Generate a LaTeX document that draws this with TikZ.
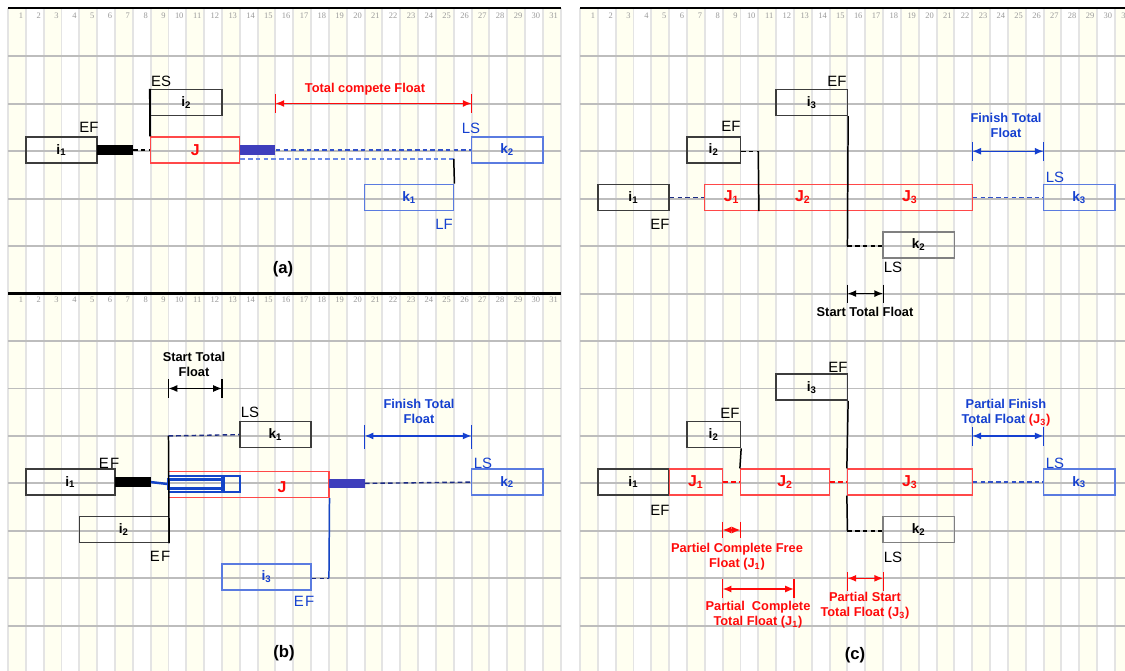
\documentclass[tikz,border=0pt]{standalone}
\usepackage{fontspec}
\setmainfont{Liberation Sans}
\newfontfamily\numfont{Liberation Serif}
\usetikzlibrary{arrows.meta,calc}
\definecolor{cream}{HTML}{FFFFF1}
\definecolor{gcol}{HTML}{E4E4E4}
\definecolor{rowcol}{HTML}{BDBDBD}
\definecolor{bblack}{HTML}{3C3C3C}
\definecolor{bred}{HTML}{FF4848}
\definecolor{bblue}{HTML}{5A7BE0}
\definecolor{bgrey}{HTML}{808080}
\definecolor{tred}{HTML}{FF0A0A}
\definecolor{tblue}{HTML}{1540D0}
\definecolor{barblue}{HTML}{3E3EBC}
\definecolor{nestblue}{HTML}{1445C8}
\definecolor{navy}{HTML}{1C2C84}
\definecolor{dblue}{HTML}{3050C8}
\definecolor{lblue}{HTML}{6A88E6}
\definecolor{numgrey}{HTML}{9A9A9A}
\newcommand\task[7]{\node[#2,minimum width={((#5)-(#4))*0.3566cm}] (#1) at ({#3+((#4)+(#5)-2)*8.915},#6) {#7};}
\newcommand\XL[1]{(8+((#1)-1)*17.83)}
\newcommand\XR[1]{(580+((#1)-1)*17.83)}
\newcommand\lb[2]{\textbf{#1\textsubscript{#2}}}
\newcommand\dimline[5]{\draw[dimar,#1] (#2) -- (#3);
  \draw[tk,#1] ($(#2)+(0,-#4)$) -- ($(#2)+(0,#5)$);
  \draw[tk,#1] ($(#3)+(0,-#4)$) -- ($(#3)+(0,#5)$);}
\begin{document}
\begin{tikzpicture}[x=0.02cm,y=-0.02cm,
 box/.style={draw,line width=0.8pt,minimum height=0.52cm,inner sep=0pt,font=\fontsize{7.8}{9}\selectfont},
 blk/.style={box,draw=bblack},
 redbox/.style={box,draw=bred,line width=0.7pt,text=tred,font=\fontsize{9}{10}\selectfont\bfseries},
 bluebox/.style={box,draw=bblue,text=tblue},
 greybox/.style={box,draw=bgrey},
 barnode/.style={inner sep=0pt,minimum height=0.19cm,draw=none},
 nest/.style={draw=nestblue,line width=1.1pt,inner sep=0pt,minimum height=0.32cm},
 nestin/.style={draw=nestblue,line width=1.2pt,inner sep=0pt,minimum height=0.18cm},
 lbl/.style={inner sep=0pt,font=\fontsize{8.5}{9}\selectfont},
 flt/.style={inner sep=0pt,align=center,font=\fontsize{7.3}{8.5}\selectfont\bfseries},
 dimar/.style={{Latex[length=5pt,width=4pt]}-{Latex[length=5pt,width=4pt]},line width=0.8pt},
 tk/.style={line width=0.7pt},
 captxt/.style={inner sep=0pt,font=\fontsize{9.5}{11}\selectfont\bfseries},
 dsh/.style={dash pattern=on 2.6pt off 1.8pt,line width=0.8pt},
 conn/.style={line width=0.85pt},
 numsty/.style={inner sep=0pt,text=numgrey,font=\numfont\fontsize{4.8}{5}\selectfont}
]
\useasboundingbox (0,0) rectangle (1125,671);
\fill[white] (0,0) rectangle (1125,671);
\begin{scope}
\clip (0,0) rectangle (1125,671);
\foreach \o in {8,580}{
  \foreach \n in {1,3,...,31} \fill[cream] ({\o+(\n-1)*17.83},8) rectangle ({\o+\n*17.83},671);
  \foreach \n in {0,...,31} \draw[gcol,line width=1.1pt] ({\o+\n*17.83},8) -- ({\o+\n*17.83},671);
  \foreach \n in {1,...,31} \node[numsty,anchor=east] at ({\o+\n*17.83-2.5},15.5) {\n};
}
\foreach \n in {1,...,31} \node[numsty,anchor=east] at ({8+\n*17.83-2.5},300) {\n};
\foreach \k in {1,2,3,4,5,7,8,9,10,11,12,13} \draw[rowcol,line width=1.1pt] (8,{8.9+47.45*\k}) -- (560.73,{8.9+47.45*\k});
\foreach \k in {1,...,13} \draw[rowcol,line width=1.1pt] (580,{8.9+47.45*\k}) -- (1125,{8.9+47.45*\k});
\draw[black,line width=1.5pt] (8,8) -- (560.73,8);
\draw[black,line width=1.5pt] (8,293.6) -- (560.73,293.6);
\draw[black,line width=1.5pt] (580,8) -- (1125,8);
\end{scope}

% ---------------- panel (a)
\task{a_i1}{blk}{8}{2}{6}{149.95}{\lb{i}{1}}
\task{a_bar}{barnode,fill=black}{8}{6}{8}{149.95}{}
\task{a_J}{redbox}{8}{9}{14}{149.95}{J}
\task{a_bbar}{barnode,fill=barblue}{8}{14}{16}{149.95}{}
\task{a_k2}{bluebox}{8}{27}{31}{149.95}{\lb{k}{2}}
\task{a_i2}{blk}{8}{9}{13}{102.5}{\lb{i}{2}}
\task{a_k1}{bluebox}{8}{21}{26}{197.4}{\lb{k}{1}}
\node[lbl] (a_EF) at (89,127) {EF};
\node[lbl] (a_ES) at (161,81) {ES};
\node[lbl,text=tblue] (a_LS) at (471,128) {LS};
\node[lbl,text=tblue] (a_LF) at (444,224) {LF};
\draw[dsh,black] (a_bar.east) -- (a_J.west);
\draw[line width=1.1pt] (a_i2.north west) -- (a_J.north west);
\draw[dsh,dblue] (a_bbar.east) -- (a_k2.west);
\coordinate (a_c) at ({\XL{26}},159);
\draw[dsh,lblue] (a_J.east |- a_c) -- (a_c);
\draw[conn] (a_c) -- (a_k1.north east);
\coordinate (a_f1) at ({\XL{16}},103.5);
\coordinate (a_f2) at ({\XL{27}},103.5);
\dimline{tred}{a_f1}{a_f2}{9}{10}
\node[flt,text=tred] (a_ft) at (365,89) {Total compete Float};
\node[captxt] (a_cap) at (283,269) {(a)};

% ---------------- panel (b)
\node[flt] (b_st) at (194,364.5) {Start Total\\Float};
\coordinate (b_s1) at ({\XL{10}},388.5);
\coordinate (b_s2) at ({\XL{13}},388.5);
\dimline{black}{b_s1}{b_s2}{9}{10}
\node[flt,text=tblue] (b_ft) at (419,411) {Finish Total\\Float};
\coordinate (b_f1) at ({\XL{21}},435.95);
\coordinate (b_f2) at ({\XL{27}},435.95);
\dimline{tblue}{b_f1}{b_f2}{11}{13}
\task{b_k1}{blk}{8}{14}{18}{434.65}{\lb{k}{1}}
\node[lbl] (b_LS1) at (250,412) {LS};
\coordinate (b_c1) at ({\XL{10}},435.95);
\task{b_i1}{blk}{8}{2}{7}{482.1}{\lb{i}{1}}
\task{b_bar}{barnode,fill=black}{8}{7}{9}{482.1}{}
\task{b_J}{redbox}{8}{10}{19}{484.5}{}
\node[inner sep=0pt,text=tred,font=\fontsize{9}{10}\selectfont\bfseries] (b_Jl) at (282,487) {J};
\task{b_nest}{nest}{8}{10}{14}{484}{}
\task{b_nin}{nestin}{8}{10}{13}{484}{}
\draw[nestblue,line width=1.8pt] (b_nin.east |- b_nest.north) -- (b_nin.east |- b_nest.south);
\draw[nestblue,line width=1.4pt] (b_bar.east) -- (b_nest.west);
\task{b_bbar}{barnode,fill=barblue}{8}{19}{21}{483.4}{}
\task{b_k2}{bluebox}{8}{27}{31}{482.1}{\lb{k}{2}}
\draw[dsh,navy] (b_bbar.east) -- (b_k2.west);
\draw[dsh,navy] (b_c1) -- (b_k1.west);
\task{b_i2}{blk}{8}{5}{10}{529.55}{\lb{i}{2}}
\draw[conn] (b_c1) -- (b_i2.south east);
\task{b_i3}{bluebox}{8}{13}{18}{577}{\lb{i}{3}}
\coordinate (b_c2) at ({\XL{19}},578.3);
\draw[dsh,navy] (b_i3.east |- b_c2) -- (b_c2);
\draw[conn,nestblue] (b_c2) -- (b_J.south east);
\node[lbl] (b_EF1) at (109,463) {E\kern0.8pt F};
\node[lbl] (b_EF2) at (160,556) {E\kern0.8pt F};
\node[lbl,text=tblue] (b_EF3) at (304,601) {E\kern0.8pt F};
\node[lbl,text=tblue] (b_LS2) at (483,463) {LS};
\node[captxt] (b_cap) at (284,653) {(b)};

% ---------------- panel (c) top
\task{c_i3}{blk}{580}{12}{16}{102.5}{\lb{i}{3}}
\task{c_i2}{blk}{580}{7}{10}{149.95}{\lb{i}{2}}
\task{c_i1}{blk}{580}{2}{6}{197.4}{\lb{i}{1}}
\task{c_J1}{redbox}{580}{8}{11}{197.4}{J\textsubscript{1}}
\task{c_J2}{redbox}{580}{11}{16}{197.4}{J\textsubscript{2}}
\task{c_J3}{redbox}{580}{16}{23}{197.4}{J\textsubscript{3}}
\task{c_k3}{bluebox}{580}{27}{31}{197.4}{\lb{k}{3}}
\task{c_k2}{greybox}{580}{18}{22}{244.85}{\lb{k}{2}}
\coordinate (c_c1) at ({\XR{11}},151.25);
\draw[dsh,black] (c_i2.east |- c_c1) -- (c_c1);
\draw[conn] (c_c1) -- (c_J1.south east);
\coordinate (c_c2) at ({\XR{16}},246.15);
\draw[conn] (c_i3.south east) -- (c_c2);
\draw[dsh,black] (c_c2) -- (c_k2.west |- c_c2);
\draw[dsh,navy] (c_i1.east) -- (c_J1.west);
\draw[dsh,dblue] (c_J3.east) -- (c_k3.west);
\node[lbl] (c_EF1) at (837,81) {EF};
\node[lbl] (c_EF2) at (731,126) {EF};
\node[lbl] (c_EF3) at (660,224) {EF};
\node[lbl,text=tblue] (c_LS1) at (1055,177) {LS};
\node[lbl] (c_LS2) at (893,267) {LS};
\node[flt,text=tblue] (c_ft) at (1006,125.5) {Finish Total\\Float};
\coordinate (c_f1) at ({\XR{23}},151.25);
\coordinate (c_f2) at ({\XR{27}},151.25);
\dimline{tblue}{c_f1}{c_f2}{9}{10}
\coordinate (c_s1) at ({\XR{16}},293.6);
\coordinate (c_s2) at ({\XR{18}},293.6);
\dimline{black}{c_s1}{c_s2}{9}{9}
\node[flt] (c_st) at (865,312) {Start Total Float};

% ---------------- panel (c) bottom
\task{d_i3}{blk}{580}{12}{16}{387.2}{\lb{i}{3}}
\task{d_i2}{blk}{580}{7}{10}{434.65}{\lb{i}{2}}
\task{d_i1}{blk}{580}{2}{6}{482.1}{\lb{i}{1}}
\task{d_J1}{redbox}{580}{6}{9}{482.1}{J\textsubscript{1}}
\task{d_J2}{redbox}{580}{10}{15}{482.1}{J\textsubscript{2}}
\task{d_J3}{redbox}{580}{16}{23}{482.1}{J\textsubscript{3}}
\task{d_k3}{bluebox}{580}{27}{31}{482.1}{\lb{k}{3}}
\task{d_k2}{greybox}{580}{18}{22}{529.55}{\lb{k}{2}}
\draw[dsh,tred] (d_J1.east) -- (d_J2.west);
\draw[dsh,tred] (d_J2.east) -- (d_J3.west);
\draw[dsh,dblue] (d_J3.east) -- (d_k3.west);
\draw[conn] (d_i2.south east) -- (d_J2.north west);
\draw[conn] (d_i3.south east) -- (d_J3.north west);
\coordinate (d_c) at ({\XR{16}},530.85);
\draw[conn] (d_J3.south west) -- (d_c);
\draw[dsh,black] (d_c) -- (d_k2.west |- d_c);
\node[lbl] (d_EF1) at (838,367) {EF};
\node[lbl] (d_EF2) at (730,413) {EF};
\node[lbl] (d_EF3) at (660,510) {EF};
\node[lbl,text=tblue] (d_LS1) at (1055,463) {LS};
\node[lbl] (d_LS2) at (893,557) {LS};
\node[flt,text=tblue] (d_pf) at (1006,412.5) {Partial Finish\\Total Float {\color{tred}(J\textsubscript{3})}};
\coordinate (d_f1) at ({\XR{23}},435.95);
\coordinate (d_f2) at ({\XR{27}},435.95);
\dimline{tblue}{d_f1}{d_f2}{9}{10}
\coordinate (d_p1) at ({\XR{9}},530);
\coordinate (d_p2) at ({\XR{10}},530);
\dimline{tred}{d_p1}{d_p2}{8}{8}
\node[flt,text=tred] (d_pcff) at (737,557) {Partiel Complete Free\\Float (J\textsubscript{1})};
\coordinate (d_q1) at ({\XR{9}},589);
\coordinate (d_q2) at ({\XR{13}},589);
\dimline{tred}{d_q1}{d_q2}{10}{9}
\node[flt,text=tred] (d_pctf) at (758,614.5) {Partial\ \ Complete\\Total Float (J\textsubscript{1})};
\coordinate (d_r1) at ({\XR{16}},578.3);
\coordinate (d_r2) at ({\XR{18}},578.3);
\dimline{tred}{d_r1}{d_r2}{6}{13}
\node[flt,text=tred] (d_pstf) at (865,605.5) {Partial Start\\Total Float (J\textsubscript{3})};
\node[captxt] (d_cap) at (855,655) {(c)};
\end{tikzpicture}
\end{document}
